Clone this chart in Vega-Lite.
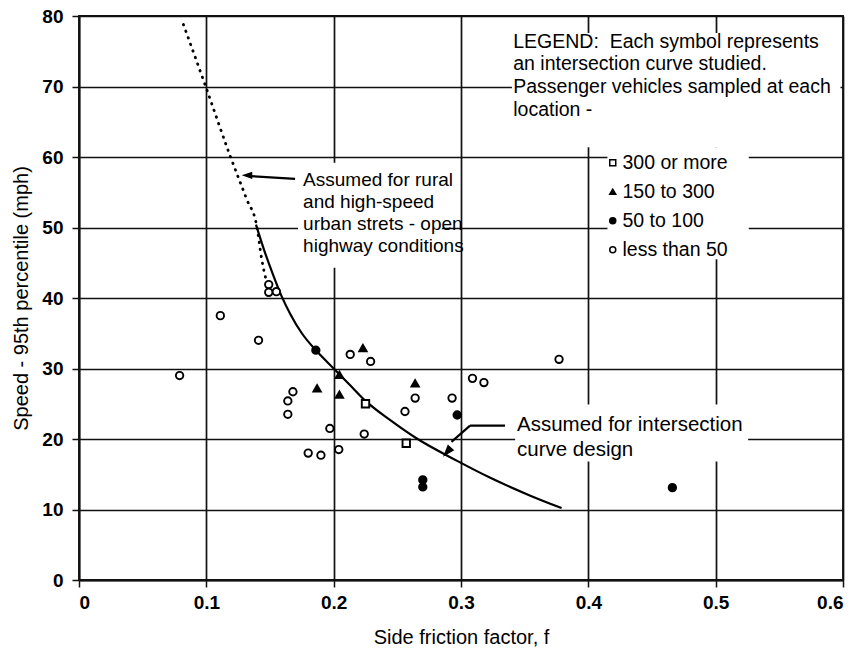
{
  "$schema": "https://vega.github.io/schema/vega-lite/v6.json",
  "width": 764,
  "height": 564,
  "autosize": {"type": "none"},
  "padding": {"left": 79, "top": 16, "right": 18, "bottom": 80},
  "background": "white",
  "config": {
    "font": "Liberation Sans",
    "view": {"stroke": "#111", "strokeWidth": 1.8},
    "axis": {
      "grid": true, "gridColor": "#111", "gridWidth": 1.7, "gridOpacity": 1,
      "domain": true, "domainColor": "#111", "domainWidth": 1.8,
      "tickColor": "#111", "tickSize": 7, "tickWidth": 1.5,
      "labelFont": "Liberation Sans", "labelFontSize": 19, "labelFontWeight": "bold", "labelColor": "#000",
      "titleFont": "Liberation Sans", "titleFontSize": 20, "titleFontWeight": "normal", "titleColor": "#000"
    },
    "axisX": {"tickCount": 6, "labelPadding": 6, "titlePadding": 15},
    "axisY": {"tickCount": 8, "labelPadding": 9, "titlePadding": 10}
  },
  "datasets": {
    "sites": [
      {"vehicles": "less than 50", "f": 0.079, "V": 29.0},
      {"vehicles": "less than 50", "f": 0.111, "V": 37.5},
      {"vehicles": "less than 50", "f": 0.141, "V": 34.0},
      {"vehicles": "less than 50", "f": 0.213, "V": 32.0},
      {"vehicles": "less than 50", "f": 0.229, "V": 31.0},
      {"vehicles": "less than 50", "f": 0.168, "V": 26.7},
      {"vehicles": "less than 50", "f": 0.164, "V": 25.4},
      {"vehicles": "less than 50", "f": 0.164, "V": 23.5},
      {"vehicles": "less than 50", "f": 0.197, "V": 21.5},
      {"vehicles": "less than 50", "f": 0.224, "V": 20.7},
      {"vehicles": "less than 50", "f": 0.256, "V": 23.9},
      {"vehicles": "less than 50", "f": 0.264, "V": 25.8},
      {"vehicles": "less than 50", "f": 0.180, "V": 18.0},
      {"vehicles": "less than 50", "f": 0.190, "V": 17.7},
      {"vehicles": "less than 50", "f": 0.204, "V": 18.5},
      {"vehicles": "less than 50", "f": 0.293, "V": 25.8},
      {"vehicles": "less than 50", "f": 0.309, "V": 28.6},
      {"vehicles": "less than 50", "f": 0.318, "V": 28.0},
      {"vehicles": "less than 50", "f": 0.377, "V": 31.3},
      {"vehicles": "less than 50", "f": 0.149, "V": 41.9},
      {"vehicles": "less than 50", "f": 0.149, "V": 40.8},
      {"vehicles": "less than 50", "f": 0.155, "V": 40.9},
      {"vehicles": "300 or more", "f": 0.225, "V": 25.0},
      {"vehicles": "300 or more", "f": 0.257, "V": 19.4},
      {"vehicles": "150 to 300", "f": 0.223, "V": 32.9},
      {"vehicles": "150 to 300", "f": 0.2045, "V": 29.1},
      {"vehicles": "150 to 300", "f": 0.187, "V": 27.2},
      {"vehicles": "150 to 300", "f": 0.2045, "V": 26.3},
      {"vehicles": "150 to 300", "f": 0.264, "V": 27.9},
      {"vehicles": "50 to 100", "f": 0.186, "V": 32.6},
      {"vehicles": "50 to 100", "f": 0.297, "V": 23.4},
      {"vehicles": "50 to 100", "f": 0.270, "V": 14.2},
      {"vehicles": "50 to 100", "f": 0.270, "V": 13.2},
      {"vehicles": "50 to 100", "f": 0.466, "V": 13.1}
    ],
    "intersection_curve": [
      {"f": 0.139, "V": 50.4},
      {"f": 0.145, "V": 47.0},
      {"f": 0.152, "V": 43.5},
      {"f": 0.159, "V": 40.3},
      {"f": 0.166, "V": 37.7},
      {"f": 0.175, "V": 35.0},
      {"f": 0.187, "V": 32.4},
      {"f": 0.2, "V": 30.0},
      {"f": 0.212, "V": 27.8},
      {"f": 0.225, "V": 25.4},
      {"f": 0.245, "V": 22.6},
      {"f": 0.265, "V": 20.1},
      {"f": 0.297, "V": 16.9},
      {"f": 0.323, "V": 14.5},
      {"f": 0.354, "V": 12.0},
      {"f": 0.379, "V": 10.2}
    ],
    "open_highway_curve": [
      {"f": 0.082, "V": 78.8},
      {"f": 0.0995, "V": 70.0},
      {"f": 0.1186, "V": 60.2},
      {"f": 0.1317, "V": 54.0},
      {"f": 0.1396, "V": 50.2},
      {"f": 0.1435, "V": 45.5},
      {"f": 0.149, "V": 41.2}
    ]
  },
  "layer": [
    {
      "data": {"values": [{}]},
      "mark": {"type": "rect", "fill": "white", "stroke": null},
      "encoding": {
        "x": {"datum": 0.34}, "x2": {"datum": 0.598},
        "y": {"datum": 77.6}, "y2": {"datum": 61.4}
      }
    },
    {
      "data": {"values": [{}]},
      "mark": {"type": "rect", "fill": "white", "stroke": null},
      "encoding": {
        "x": {"datum": 0.415}, "x2": {"datum": 0.526},
        "y": {"datum": 61.4}, "y2": {"datum": 45.5}
      }
    },
    {
      "data": {"values": [{}]},
      "mark": {"type": "rect", "fill": "white", "stroke": null},
      "encoding": {
        "x": {"datum": 0.172}, "x2": {"datum": 0.285},
        "y": {"datum": 59.2}, "y2": {"datum": 44.3}
      }
    },
    {
      "data": {"values": [{}]},
      "mark": {"type": "rect", "fill": "white", "stroke": null},
      "encoding": {
        "x": {"datum": 0.3425}, "x2": {"datum": 0.5255},
        "y": {"datum": 24.9}, "y2": {"datum": 16.8}
      }
    },
    {
      "data": {"name": "open_highway_curve"},
      "mark": {"type": "line", "stroke": "#000", "strokeWidth": 2.8, "strokeDash": [0.5, 6.5], "strokeCap": "round", "interpolate": "monotone"},
      "encoding": {
        "x": {"field": "f", "type": "quantitative", "title": "Side friction factor, f"},
        "y": {"field": "V", "type": "quantitative", "title": "Speed - 95th percentile (mph)"}
      }
    },
    {
      "data": {"name": "intersection_curve"},
      "mark": {"type": "line", "stroke": "#000", "strokeWidth": 2.2, "interpolate": "monotone"},
      "encoding": {
        "x": {"field": "f", "type": "quantitative", "title": "Side friction factor, f"},
        "y": {"field": "V", "type": "quantitative", "title": "Speed - 95th percentile (mph)"}
      }
    },
    {
      "data": {"name": "sites"},
      "mark": {"type": "point", "stroke": "#000", "strokeWidth": 1.9, "size": 55, "opacity": 1},
      "encoding": {
        "x": {"field": "f", "type": "quantitative", "scale": {"domain": [0, 0.6], "nice": false},
          "axis": {"format": "~g", "labelFontSize": 19, "labelFontWeight": "bold"}, "title": "Side friction factor, f"},
        "y": {"field": "V", "type": "quantitative", "scale": {"domain": [0, 80], "nice": false},
          "axis": {"labelFontSize": 19, "labelFontWeight": "bold"}, "title": "Speed - 95th percentile (mph)"},
        "shape": {
          "field": "vehicles", "type": "nominal",
          "scale": {"domain": ["300 or more", "150 to 300", "50 to 100", "less than 50"], "range": ["square", "triangle-up", "circle", "circle"]},
          "legend": {"orient": "none", "legendX": 524, "legendY": 137, "title": null, "padding": 0, "labelFontSize": 19.5, "labelFont": "Liberation Sans", "labelColor": "#000", "symbolSize": 36, "rowPadding": 8, "labelOffset": 0,
            "encode": {"symbols": {"update": {"stroke": {"value": "#000"}, "strokeWidth": {"value": 1.5}}}}}
        },
        "fill": {
          "field": "vehicles", "type": "nominal",
          "scale": {"domain": ["300 or more", "150 to 300", "50 to 100", "less than 50"], "range": ["#ffffff", "#000000", "#000000", "#ffffff"]},
          "legend": {"orient": "none", "legendX": 524, "legendY": 137, "title": null, "padding": 0, "labelFontSize": 19.5, "labelFont": "Liberation Sans", "labelColor": "#000", "symbolSize": 36, "rowPadding": 8, "labelOffset": 0,
            "encode": {"symbols": {"update": {"stroke": {"value": "#000"}, "strokeWidth": {"value": 1.5}}}}}
        }
      }
    },
    {
      "data": {"values": [{}]},
      "mark": {"type": "rule", "stroke": "#000", "strokeWidth": 2.2},
      "encoding": {
        "x": {"datum": 0.1697}, "y": {"datum": 56.9},
        "x2": {"datum": 0.134}, "y2": {"datum": 57.3}
      }
    },
    {
      "data": {"values": [{}]},
      "mark": {"type": "point", "shape": "M0,0L2,-0.7L2,0.7Z", "filled": true, "fill": "#000", "stroke": null, "size": 110, "opacity": 1, "angle": 0},
      "encoding": {"x": {"datum": 0.1278}, "y": {"datum": 57.4}}
    },
    {
      "data": {"values": [{}]},
      "mark": {"type": "rule", "stroke": "#000", "strokeWidth": 2.2},
      "encoding": {
        "x": {"datum": 0.3346}, "y": {"datum": 21.9},
        "x2": {"datum": 0.3071}, "y2": {"datum": 21.9}
      }
    },
    {
      "data": {"values": [{}]},
      "mark": {"type": "rule", "stroke": "#000", "strokeWidth": 2.2},
      "encoding": {
        "x": {"datum": 0.3071}, "y": {"datum": 21.9},
        "x2": {"datum": 0.2925}, "y2": {"datum": 19.6}
      }
    },
    {
      "data": {"values": [{}]},
      "mark": {"type": "point", "shape": "M0,0L2,-0.7L2,0.7Z", "filled": true, "fill": "#000", "stroke": null, "size": 150, "opacity": 1, "angle": 311},
      "encoding": {"x": {"datum": 0.2859}, "y": {"datum": 17.5}}
    },
    {
      "data": {"values": [{}]},
      "mark": {"type": "text", "align": "left", "baseline": "alphabetic", "font": "Liberation Sans", "fontSize": 19.5, "lineHeight": 22.7, "fill": "#000",
        "text": ["LEGEND:\u00a0 Each symbol represents", "\u00a0an intersection curve studied.", "Passenger vehicles sampled at each", "location -"]},
      "encoding": {"x": {"datum": 0.341}, "y": {"datum": 75.5}}
    },
    {
      "data": {"values": [{}]},
      "mark": {"type": "text", "align": "left", "baseline": "alphabetic", "font": "Liberation Sans", "fontSize": 19, "lineHeight": 22.2, "fill": "#000",
        "text": ["Assumed for rural", "and high-speed", "urban strets - open", "highway conditions"]},
      "encoding": {"x": {"datum": 0.176}, "y": {"datum": 55.9}}
    },
    {
      "data": {"values": [{}]},
      "mark": {"type": "text", "align": "left", "baseline": "alphabetic", "font": "Liberation Sans", "fontSize": 20.5, "lineHeight": 25, "fill": "#000",
        "text": ["Assumed for intersection", "curve design"]},
      "encoding": {"x": {"datum": 0.344}, "y": {"datum": 21.1}}
    }
  ]
}
